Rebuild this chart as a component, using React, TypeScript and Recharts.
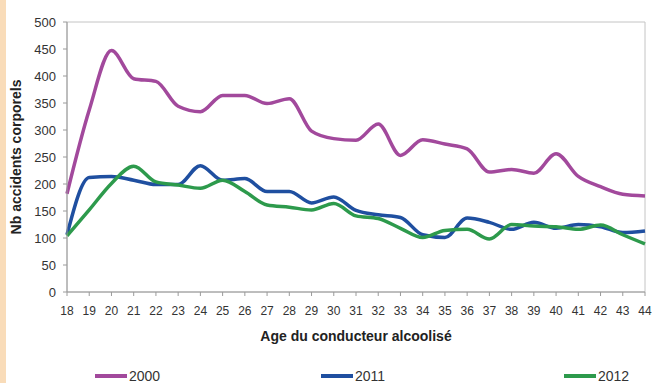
import { LineChart, Line, XAxis, YAxis, ReferenceArea } from 'recharts';

// Nombre d'accidents corporels selon l'âge du conducteur alcoolisé
const ages = [18, 19, 20, 21, 22, 23, 24, 25, 26, 27, 28, 29, 30, 31, 32, 33, 34, 35, 36, 37, 38, 39, 40, 41, 42, 43, 44];
const values2000 = [182, 337, 447, 395, 390, 344, 334, 364, 364, 349, 358, 298, 284, 281, 311, 253, 282, 274, 265, 222, 227, 220, 256, 214, 195, 181, 178];
const values2011 = [106, 212, 214, 207, 199, 199, 234, 207, 210, 186, 186, 165, 176, 151, 143, 138, 106, 101, 137, 129, 116, 129, 118, 125, 121, 110, 113];
const values2012 = [104, 152, 201, 233, 204, 198, 192, 207, 186, 161, 157, 152, 164, 141, 136, 118, 101, 114, 116, 98, 125, 122, 121, 116, 124, 106, 89];
const yTicks = [0, 50, 100, 150, 200, 250, 300, 350, 400, 450, 500];

const series = [
  { key: 'y2000', name: '2000', color: '#A2499C', values: values2000 },
  { key: 'y2011', name: '2011', color: '#1F4FA0', values: values2011 },
  { key: 'y2012', name: '2012', color: '#2D9A4C', values: values2012 },
];

const data = ages.map((age, i) => ({
  age: String(age),
  y2000: values2000[i],
  y2011: values2011[i],
  y2012: values2012[i],
}));

// legend is drawn below the plot, as in the original Excel export
const legendX = [95, 321, 564];

export default function App() {
  return (
    <div style={{ position: 'relative', width: 656, height: 383, background: '#fff', fontFamily: 'Liberation Sans, Arial, sans-serif' }}>
      <style>{'body{margin:0}'}</style>
      <div style={{ position: 'absolute', left: 0, top: 0, width: 6, height: 383, background: '#F9DCB9' }} />
      <LineChart
        width={656}
        height={383}
        data={data}
        margin={{ top: 22, right: 11, left: 27, bottom: 31 }}
      >
        <ReferenceArea x1="18" x2="44" y1={0} y2={500} fill="none" stroke="#c4c4c4" strokeWidth={1} ifOverflow="visible" />
        <XAxis
          dataKey="age"
          height={60}
          interval={0}
          stroke="#9a9a9a"
          tickSize={4}
          tickMargin={10}
          tick={{ fill: '#333', fontSize: 12 }}
          label={{ value: 'Age du conducteur alcoolisé', position: 'insideTop', offset: 39, fill: '#222', fontSize: 14, fontWeight: 'bold' }}
        />
        <YAxis
          width={40}
          domain={[0, 500]}
          ticks={yTicks}
          interval={0}
          stroke="#9a9a9a"
          tickSize={4}
          tickMargin={7}
          tick={{ fill: '#333', fontSize: 13 }}
          label={{ value: 'Nb accidents corporels', angle: -90, position: 'insideLeft', offset: -11, fill: '#222', fontSize: 14, fontWeight: 'bold', style: { textAnchor: 'middle' } }}
        />
        {series.map((s) => (
          <Line
            key={s.key}
            type="monotone"
            dataKey={s.key}
            name={s.name}
            stroke={s.color}
            strokeWidth={3.5}
            dot={false}
            isAnimationActive={false}
          />
        ))}
      </LineChart>
      {series.map((s, i) => (
        <div key={s.key} style={{ position: 'absolute', left: legendX[i], top: 367, display: 'flex', alignItems: 'center', height: 18 }}>
          <span style={{ display: 'inline-block', width: 32, height: 4, background: s.color, marginRight: 2 }} />
          <span style={{ fontSize: 14, color: '#333' }}>{s.name}</span>
        </div>
      ))}
    </div>
  );
}
